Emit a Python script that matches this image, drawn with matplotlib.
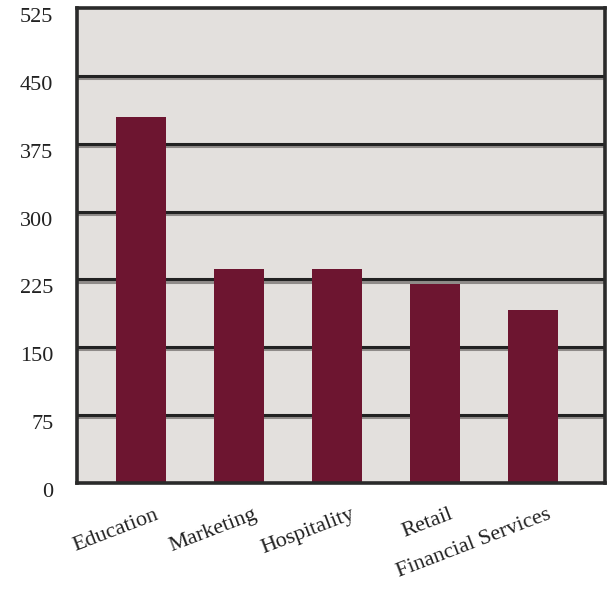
import matplotlib
matplotlib.use("Agg")
import matplotlib.pyplot as plt
import matplotlib.patheffects as pe
import matplotlib.transforms as mtransforms

categories = ["Education", "Marketing", "Hospitality", "Retail", "Financial Services"]
values = [405, 237, 237, 220, 191]
y_ticks = [0, 75, 150, 225, 300, 375, 450, 525]

plt.rcParams['font.family'] = ['Liberation Serif', 'DejaVu Serif']

fig = plt.figure(figsize=(6.11, 5.91), dpi=100)
ax = fig.add_axes([77/611, 1-483/591, (605-77)/611, (483-8)/591])
ax.set_facecolor('#e3e0dd')

x = list(range(len(categories)))
ax.bar(x, values, width=0.51, color='#6d1530', zorder=3)

ax.set_xlim(-0.653, 4.735)
ax.set_ylim(0, 525)
ax.set_yticks(y_ticks)
ax.set_yticklabels([str(v) for v in y_ticks], fontsize=16, color='#222222')
ax.tick_params(axis='y', length=0, pad=17)
ax.tick_params(axis='x', length=0, pad=16)
yoff = mtransforms.ScaledTranslation(0, -7/100, fig.dpi_scale_trans)
for lbl in ax.get_yticklabels():
    lbl.set_transform(lbl.get_transform() + yoff)

for v in y_ticks[1:-1]:
    ax.axhline(v, color='#222222', linewidth=2.2, zorder=2,
               path_effects=[pe.SimpleLineShadow(offset=(0, -1.5), shadow_color='#7a7674', alpha=0.8),
                             pe.Normal()])

for s in ax.spines.values():
    s.set_linewidth(2.6)
    s.set_color('#2a2a2a')
    s.set_zorder(5)

ax.set_xticks(x)
ax.set_xticklabels(categories, fontsize=16, rotation=21, ha='right',
                   rotation_mode='anchor', color='#222222')
offset = mtransforms.ScaledTranslation(14/100, 0, fig.dpi_scale_trans)
for lbl in ax.get_xticklabels():
    lbl.set_transform(lbl.get_transform() + offset)

fig.savefig("out.png", dpi=100)
